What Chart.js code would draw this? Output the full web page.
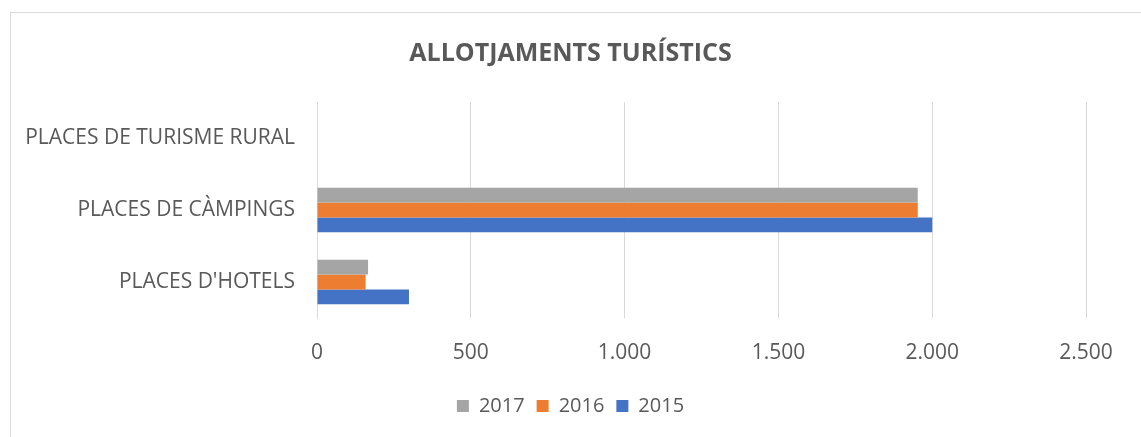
<!DOCTYPE html>
<html>
<head>
<meta charset="utf-8">
<script src="https://cdn.jsdelivr.net/npm/chart.js@4"></script>
<style>
  body { margin: 0; background: #fff; }
  #frame { position: absolute; left: 10px; top: 12px; width: 1200px; height: 500px; border: 1px solid #d9d9d9; }
  #wrap { position: absolute; left: 0; top: 0; width: 1141px; height: 437px; }
</style>
</head>
<body>
<div id="frame"></div>
<div id="wrap"><canvas id="chart"></canvas></div>
<script>
const categories = ["PLACES DE TURISME RURAL", "PLACES DE CÀMPINGS", "PLACES D'HOTELS"];
const values2017 = [0, 1953, 166];
const values2016 = [0, 1953, 158];
const values2015 = [0, 2000, 299];
const xTicks = [0, 500, 1000, 1500, 2000, 2500];

const textColor = '#595959';
const font = 'Open Sans';

// Catalan style thousands separator
const fmt = v => v.toString().replace(/\B(?=(\d{3})+(?!\d))/g, '.');

new Chart(document.getElementById('chart'), {
  type: 'bar',
  data: {
    labels: categories,
    datasets: [
      { label: '2017', data: values2017, backgroundColor: '#A5A5A5' },
      { label: '2016', data: values2016, backgroundColor: '#ED7D31' },
      { label: '2015', data: values2015, backgroundColor: '#4472C4' },
    ],
  },
  options: {
    indexAxis: 'y',
    responsive: true,
    maintainAspectRatio: false,
    animation: false,
    datasets: { bar: { categoryPercentage: 0.62, barPercentage: 1 } },
    layout: { padding: { top: 0, right: 0, bottom: 11, left: 0 } },
    plugins: {
      tooltip: { enabled: false },
      title: {
        display: true,
        text: 'ALLOTJAMENTS TURÍSTICS',
        color: textColor,
        font: { family: font, size: 25, weight: 'bold' },
        padding: { top: 39, bottom: 33 },
      },
      legend: {
        position: 'bottom',
        labels: {
          color: textColor,
          font: { family: font, size: 20 },
          boxWidth: 12,
          boxHeight: 12,
          padding: 12,
        },
      },
    },
    scales: {
      x: {
        min: 0,
        max: 2500,
        afterBuildTicks: s => { s.ticks = xTicks.map(v => ({ value: v })); },
        afterFit: s => { s.height = 66; },
        grid: { color: '#d9d9d9', drawTicks: false },
        border: { display: false },
        ticks: { color: textColor, font: { family: font, size: 21 }, padding: 22, callback: v => fmt(v) },
      },
      y: {
        afterFit: s => { s.width = 317; },
        grid: { display: false },
        border: { display: true, color: '#d9d9d9' },
        ticks: { color: textColor, font: { family: font, size: 21 }, padding: 14 },
      },
      // empty spacer on the right so the plot ends at 2.500 while title/legend stay centred
      spacer: {
        type: 'category',
        axis: 'y',
        position: 'right',
        afterFit: s => { s.width = 55; },
        grid: { display: false },
        border: { display: false },
        ticks: { display: false },
      },
    },
  },
});
</script>
</body>
</html>
